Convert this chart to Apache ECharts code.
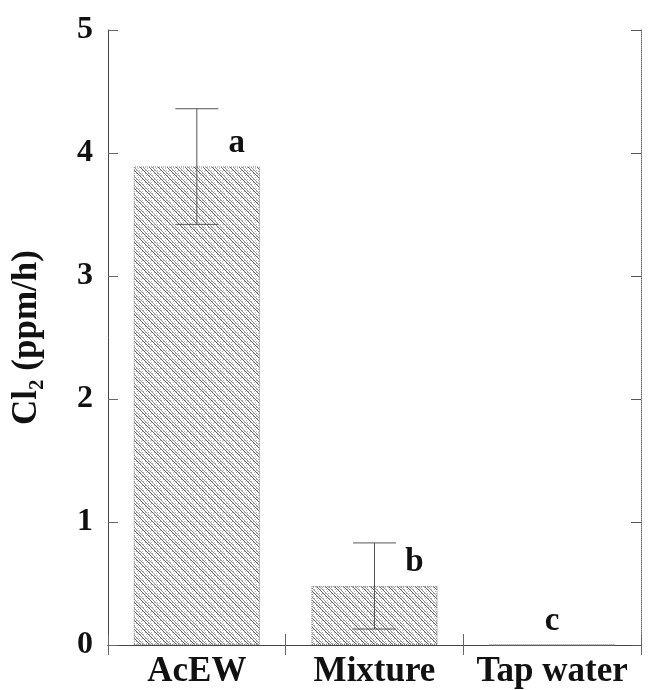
<!DOCTYPE html>
<html>
<head>
<meta charset="utf-8">
<script src="https://cdn.jsdelivr.net/npm/echarts@6/dist/echarts.min.js"></script>
<style>html,body{margin:0;padding:0;background:#fff}#c{width:653px;height:690px}</style>
</head>
<body>
<div id="c"></div>
<script>
const categories = ['AcEW', 'Mixture', 'Tap water'];
const values = [3.89, 0.48, 0];
const errLow = [3.42, 0.13, null];
const errHigh = [4.36, 0.83, null];
const letters = ['a', 'b', 'c'];
const yTicks = [0, 1, 2, 3, 4, 5];

const FONT = 'Liberation Serif';

// hatch pattern tile
function makePattern() {
  const n = 9;
  const cv = document.createElement('canvas');
  cv.width = n; cv.height = n;
  const ctx = cv.getContext('2d');
  const img = ctx.createImageData(n, n);
  for (let y = 0; y < n; y++) {
    for (let x = 0; x < n; x++) {
      const d = ((x - y) % n + n) % n;
      let v = 255;
      if (d === 0) v = 100;
      else if (d === 3) v = 150;
      else if ((x * 2 + y * 5) % 6 === 0) v = 175;
      const i = (y * n + x) * 4;
      img.data[i] = v; img.data[i + 1] = v; img.data[i + 2] = v; img.data[i + 3] = 255;
    }
  }
  ctx.putImageData(img, 0, 0);
  return cv;
}

const chart = echarts.init(document.getElementById('c'), null, {renderer: 'canvas'});

const errData = categories.map((c, i) => [i, errLow[i], errHigh[i]]).filter(d => d[1] != null);
const letterData = categories.map((c, i) => [i, values[i], letters[i], errHigh[i] != null ? 1 : 0]);

const option = {
  animation: false,
  backgroundColor: '#fff',
  grid: {left: 108, right: 12, top: 30, bottom: 45, containLabel: false},
  xAxis: [{
    type: 'category',
    data: categories,
    position: 'bottom',
    axisLine: {lineStyle: {color: '#444', width: 1}},
    axisTick: {show: true, inside: true, length: 11, alignWithLabel: false, lineStyle: {color: '#666'}},
    axisLabel: {margin: 9, interval: 0, hideOverlap: false, fontFamily: FONT, fontWeight: 'bold', fontSize: 35, color: '#111'}
  }, {
    type: 'category',
    data: categories,
    position: 'top',
    axisLine: {show: true, lineStyle: {color: '#444', width: 1}},
    axisTick: {show: true, inside: true, length: 10, lineStyle: {color: '#666'}},
    axisLabel: {show: false}
  }],
  yAxis: [{
    type: 'value',
    min: 0, max: 5, interval: 1,
    position: 'left',
    name: 'Cl₂ (ppm/h)',
    nameLocation: 'middle',
    nameGap: 64,
    nameTextStyle: {fontFamily: FONT, fontWeight: 'bold', fontSize: 35, color: '#111'},
    axisLine: {show: true, lineStyle: {color: '#444', width: 1}},
    axisTick: {show: true, inside: true, length: 10, lineStyle: {color: '#666'}},
    splitLine: {show: false},
    axisLabel: {margin: 15, fontFamily: FONT, fontWeight: 'bold', fontSize: 32, color: '#111',
      formatter: v => yTicks.includes(v) ? String(v) : ''}
  }, {
    type: 'value',
    min: 0, max: 5, interval: 1,
    position: 'right',
    axisLine: {show: true, lineStyle: {color: '#666', width: 1, type: 'dotted'}},
    axisTick: {show: true, inside: true, length: 10, lineStyle: {color: '#555'}},
    splitLine: {show: false},
    axisLabel: {show: false}
  }],
  series: [{
    type: 'bar',
    data: values,
    barWidth: '71%',
    itemStyle: {
      color: {image: makePattern(), repeat: 'repeat'},
      borderColor: '#777',
      borderWidth: 1,
      borderType: 'dotted'
    },
    z: 2
  }, {
    type: 'custom',
    data: errData,
    z: 3,
    renderItem: function (params, api) {
      const lo = api.coord([api.value(0), api.value(1)]);
      const hi = api.coord([api.value(0), api.value(2)]);
      const hw = 21.5;
      const st = {stroke: '#555', lineWidth: 1};
      return {type: 'group', children: [
        {type: 'line', shape: {x1: hi[0], y1: hi[1], x2: lo[0], y2: lo[1]}, style: st},
        {type: 'line', shape: {x1: hi[0] - hw, y1: hi[1], x2: hi[0] + hw, y2: hi[1]}, style: st},
        {type: 'line', shape: {x1: lo[0] - hw, y1: lo[1], x2: lo[0] + hw, y2: lo[1]}, style: st}
      ]};
    }
  }, {
    type: 'custom',
    data: letterData,
    z: 4,
    renderItem: function (params, api) {
      const p = api.coord([api.value(0), api.value(1) + 0.19]);
      const dx = api.value(3) ? 40 : 0;
      return {type: 'text', style: {
        x: p[0] + dx, y: p[1],
        text: letterData[params.dataIndex][2],
        font: 'bold 33px "' + FONT + '"',
        fill: '#111',
        textAlign: 'center', textVerticalAlign: 'middle'
      }};
    }
  }]
};
chart.setOption(option);
</script>
</body>
</html>
